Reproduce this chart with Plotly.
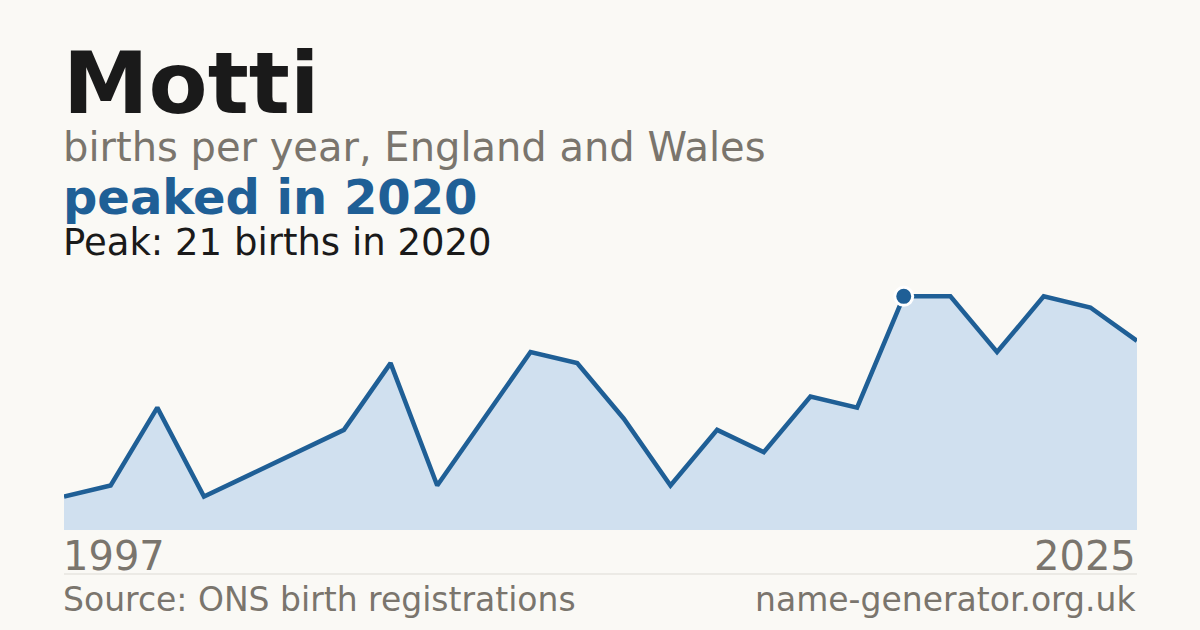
import plotly.graph_objects as go

# births per year (years with fewer than 3 births are not published)
years = ["1997", "1998", "1999", "2000", "2001", "2002", "2003", "2004", "2005",
         "2007", "2008", "2009", "2010", "2012", "2013", "2014", "2016", "2018",
         "2020", "2021", "2022", "2023", "2024", "2025"]
births = [3, 4, 11, 3, 5, 7, 9, 15, 4, 10, 16, 15, 10, 4, 9, 7, 12, 11,
          21, 21, 16, 21, 20, 17]

name = "Motti"
subtitle = "births per year, England and Wales"
source = "Source: ONS birth registrations"
site = "name-generator.org.uk"

peak = max(births)
peak_i = births.index(peak)
peak_year = years[peak_i]

bg = "#faf9f5"
blue = "#1f5f96"
grey = "#7a756d"
font = "DejaVu Sans"

# plot area in pixels (top / bottom / left / right of the chart)
top, bottom = 273, 530
left, right = 64, 1137
ymax = peak * 1.1


def py(pix):
    # pixel row -> paper y
    return (bottom - pix) / (bottom - top)


# text box padding nudge, so glyphs start at the chart edge
dx = -2 / (right - left)

fig = go.Figure()
fig.add_trace(go.Scatter(x=years, y=births, mode="lines",
                         line=dict(color=blue, width=4.5),
                         opacity=0.88,
                         fill="tozeroy", fillcolor="#d0e0ef",
                         hoverinfo="skip"))
fig.add_trace(go.Scatter(x=[peak_year], y=[peak], mode="markers",
                         marker=dict(color=blue, size=18,
                                     line=dict(color="white", width=3)),
                         hoverinfo="skip"))

ann = [
    dict(text="<b>" + name + "</b>", y=py(83), size=86, color="#1a1a1a"),
    dict(text=subtitle, y=py(147), size=40, color=grey),
    dict(text="<b>peaked in " + peak_year + "</b>", y=py(197), size=48, color=blue),
    dict(text="Peak: %d births in %s" % (peak, peak_year), y=py(242), size=37, color="#1a1a1a"),
    dict(text=years[0], y=py(556), size=40, color=grey),
    dict(text=source, y=py(599), size=33, color=grey),
]
annotations = []
for a in ann:
    annotations.append(dict(text=a["text"], x=dx, y=a["y"], xref="paper", yref="paper",
                            xanchor="left", yanchor="middle", showarrow=False,
                            borderpad=0,
                            font=dict(family=font, size=a["size"], color=a["color"])))
annotations.append(dict(text=years[-1], x=1, y=py(556), xref="paper", yref="paper",
                        xanchor="right", yanchor="middle", showarrow=False, borderpad=0,
                        font=dict(family=font, size=40, color=grey)))
annotations.append(dict(text=site, x=1, y=py(599), xref="paper", yref="paper",
                        xanchor="right", yanchor="middle", showarrow=False, borderpad=0,
                        font=dict(family=font, size=33, color=grey)))

fig.update_layout(
    width=1200, height=630,
    margin=dict(l=left, r=1200 - right, t=top, b=630 - bottom),
    paper_bgcolor=bg, plot_bgcolor=bg,
    showlegend=False,
    annotations=annotations,
    shapes=[dict(type="line", xref="paper", yref="paper", x0=0, x1=1,
                 y0=py(574), y1=py(574), line=dict(color="#dddbd5", width=1))],
    xaxis=dict(type="category", visible=False, range=[0, len(years) - 1], fixedrange=True),
    yaxis=dict(visible=False, range=[0, ymax], fixedrange=True),
)

fig.write_html("out.html", config={"displayModeBar": False},
               post_script="document.body.style.margin='0';document.body.style.background='%s';" % bg)
